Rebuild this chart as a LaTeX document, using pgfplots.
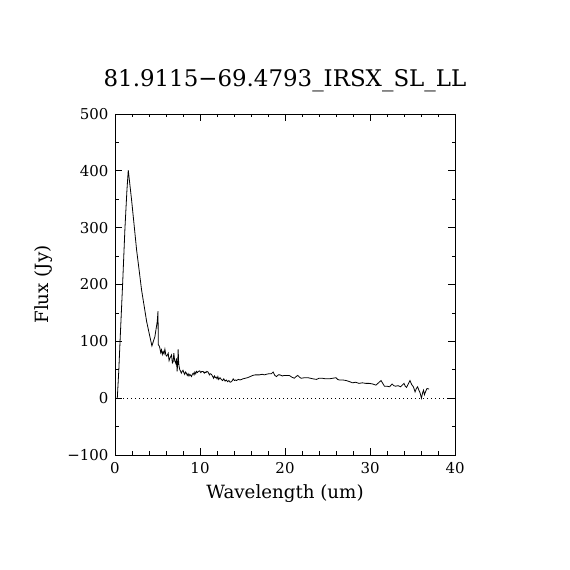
\documentclass[border=0pt]{standalone}
\usepackage{fontspec}
\setmainfont{DejaVu Serif}
\usepackage{pgfplots}
\pgfplotsset{compat=1.18}
\begin{document}
\begin{tikzpicture}[x=1bp,y=1bp]
\useasboundingbox (0,0) rectangle (570,570);
\fill[white] (0,0) rectangle (570,570);
\begin{axis}[
  at={(115bp,115bp)}, anchor=south west,
  scale only axis, width=340bp, height=341bp,
  xmin=0, xmax=40, ymin=-100, ymax=500,
  axis line style={line width=0.8bp},
  xtick={0,10,20,30,40}, xticklabels={0,10,20,30,40},
  ytick={-100,0,100,200,300,400,500},
  yticklabels={−100,0,100,200,300,400,500},
  minor x tick num=4, minor y tick num=1,
  tick align=inside, tick pos=both,
  major tick length=7bp, minor tick length=3.5bp,
  tick style={line width=0.8bp, black},
  /pgf/number format/assume math mode=true,
  ticklabel style={font=\fontsize{15}{18}\selectfont},
  yticklabel style={xshift=-3bp},
  xticklabel style={yshift=-4bp},
  title={81.9115−69.4793\_IRSX\_SL\_LL},
  title style={at={(0.5,1.0645)}, anchor=base, font=\fontsize{23}{27}\selectfont},
  xlabel={Wavelength (um)},
  xlabel style={at={(0.5,-0.129)}, anchor=base, font=\fontsize{18.3}{22}\selectfont},
  ylabel={Flux (Jy)},
  ylabel style={at={(-0.197,0.5)}, anchor=base, font=\fontsize{18.3}{22}\selectfont},
]
\addplot[black, dotted, line width=0.8bp, dash pattern=on 1bp off 3bp] coordinates {(0,0) (40,0)};
\addplot[black, line width=0.8bp] table {
x y
0.27 0
0.45 50
0.59 99
0.9 202
1.17 299
1.40 365
1.56 401
1.95 349
2.54 261
3.13 190
3.72 135
4.05 112
4.34 92
4.69 108
4.97 135
5.06 153
5.09 94
5.20 92
5.28 88
5.38 80
5.47 85
5.57 77
5.67 82
5.77 78
5.87 86
5.98 76
6.10 74
6.26 79
6.36 66
6.45 70
6.55 73
6.65 76
6.75 62
6.84 64
6.92 79
7.02 66
7.16 61
7.23 70
7.31 47
7.37 60
7.43 86
7.49 62
7.55 55
7.62 50
7.70 48
7.80 44
7.90 47
8.00 49
8.10 45
8.20 42
8.30 46
8.40 44
8.50 40
8.60 43
8.70 39
8.80 42
8.90 40
9.00 38
9.10 42
9.20 44
9.30 41
9.40 46
9.50 43
9.58 47
9.70 45
9.80 47
9.97 48
10.10 45
10.20 47
10.36 47
10.50 44
10.60 46
10.70 45
10.80 47
10.95 46
11.10 41
11.20 43
11.34 42
11.50 38
11.60 35
11.70 39
11.80 36
11.90 37
12.00 34
12.10 38
12.20 33
12.35 36
12.50 33
12.65 31
12.80 34
12.95 30
13.10 32
13.25 29
13.40 31
13.55 28
13.70 29
13.80 31
13.90 34
14.05 31
14.20 32
14.30 31
14.50 33
14.70 32
14.90 33
15.05 34
15.30 35
15.60 36
15.90 38
16.20 40
16.50 41
16.80 41
17.00 41
17.30 42
17.60 41
17.80 42
18.10 43
18.40 43
18.60 46
18.80 40
19.00 38
19.20 41
19.40 41
19.70 39
19.90 40
20.20 40
20.50 40
20.80 37
21.10 35
21.30 38
21.50 40
21.70 37
21.90 35
22.30 36
22.70 36
23.00 35
23.30 34
23.70 33
24.00 35
24.40 35
24.80 34
25.20 34
25.60 35
26.00 36
26.20 33
26.40 32
26.80 32
27.20 31
27.60 29
27.95 27
28.30 28
28.70 26
29.10 27
29.50 26
29.90 26
30.30 25
30.70 23
31.00 27
31.30 31
31.50 26
31.70 21
32.00 21
32.30 20
32.60 25
32.80 22
33.00 21
33.30 22
33.60 20
33.80 23
34.00 26
34.15 21
34.30 19
34.50 25
34.70 31
34.90 24
35.10 20
35.30 11
35.45 17
35.60 20
35.75 14
35.90 9
36.05 0
36.20 10
36.30 14
36.40 6
36.55 12
36.70 17
36.95 16
};
\end{axis}
\end{tikzpicture}
\end{document}
